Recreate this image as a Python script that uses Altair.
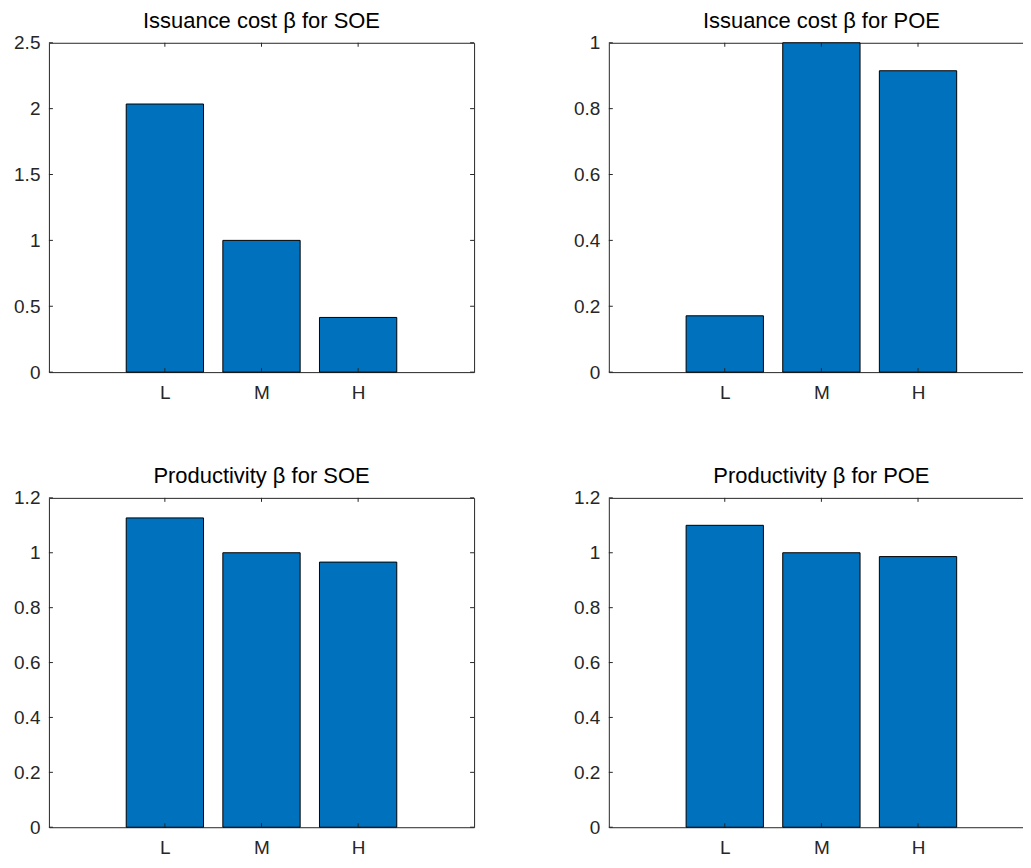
import altair as alt
import pandas as pd

categories = ["L", "M", "H"]
positions = [1, 2, 3]
bar_half = 0.4

titles = [
    "Issuance cost β for SOE",
    "Issuance cost β for POE",
    "Productivity β for SOE",
    "Productivity β for POE",
]
values = [
    [2.035, 1.0, 0.415],
    [0.171, 1.0, 0.915],
    [1.127, 1.0, 0.966],
    [1.100, 1.0, 0.986],
]
y_domains = [[0, 2.5], [0, 1], [0, 1.2], [0, 1.2]]
y_ticks = [
    [0, 0.5, 1, 1.5, 2, 2.5],
    [0, 0.2, 0.4, 0.6, 0.8, 1],
    [0, 0.2, 0.4, 0.6, 0.8, 1, 1.2],
    [0, 0.2, 0.4, 0.6, 0.8, 1, 1.2],
]
x_domain = [-0.2, 4.2]

W, H = 426, 330
TL = 4
BLUE = "#0072BD"
AXC = "#262626"
TXT = "#262626"
FONT = "Liberation Sans"

label_expr = "[" + ",".join(f"'{c}'" for c in categories) + "][datum.value - 1]"


def panel(title, vals, ydom, yt):
    df = pd.DataFrame({"cat": categories, "pos": positions, "val": vals})
    df["x0"] = df["pos"] - bar_half
    df["x1"] = df["pos"] + bar_half
    xs = alt.Scale(domain=x_domain, nice=False, zero=False)
    ys = alt.Scale(domain=ydom, nice=False, zero=True)
    bars = alt.Chart(df).mark_rect(color=BLUE, stroke="black", strokeWidth=1).encode(
        x=alt.X("x0:Q", scale=xs, title=None,
                axis=alt.Axis(values=positions, labelExpr=label_expr, ticks=False,
                              domain=False, grid=False, labelPadding=11,
                              labelFontSize=19, labelColor=TXT, labelFont=FONT)),
        x2="x1:Q",
        y=alt.Y("val:Q", scale=ys, title=None,
                axis=alt.Axis(values=yt, format="~g", ticks=False, domain=False,
                              grid=False, labelPadding=9, labelFontSize=19,
                              labelColor=TXT, labelFont=FONT)),
        y2=alt.datum(0),
    )
    ydf = pd.DataFrame({"t": yt})
    xdf = pd.DataFrame({"p": positions})
    yl = alt.Chart(ydf).mark_rule(color=AXC, strokeWidth=1).encode(
        y=alt.Y("t:Q", scale=ys, title=None), x=alt.value(0), x2=alt.value(TL))
    yr = alt.Chart(ydf).mark_rule(color=AXC, strokeWidth=1).encode(
        y=alt.Y("t:Q", scale=ys, title=None), x=alt.value(W - TL), x2=alt.value(W))
    xb = alt.Chart(xdf).mark_rule(color=AXC, strokeWidth=1).encode(
        x=alt.X("p:Q", scale=xs, title=None), y=alt.value(H - TL), y2=alt.value(H))
    xt = alt.Chart(xdf).mark_rule(color=AXC, strokeWidth=1).encode(
        x=alt.X("p:Q", scale=xs, title=None), y=alt.value(0), y2=alt.value(TL))
    return alt.layer(bars, yl, yr, xb, xt).properties(
        width=W, height=H,
        view=alt.ViewConfig(stroke=AXC, strokeWidth=1),
        title=alt.TitleParams(title, fontSize=22, font=FONT, fontWeight="normal",
                              color="black", offset=1, frame="group"),
    )


panels = [panel(t, v, d, yt) for t, v, d, yt in zip(titles, values, y_domains, y_ticks)]

chart = alt.concat(*panels, columns=2, spacing={"row": 126, "column": 135}).properties(
    bounds="flush",
    padding={"left": 5, "top": 0, "right": -12, "bottom": 0},
).configure_view(stroke=AXC, strokeWidth=1).configure(background="white")

chart.save("out.html", embed_options={"renderer": "svg", "actions": False})
